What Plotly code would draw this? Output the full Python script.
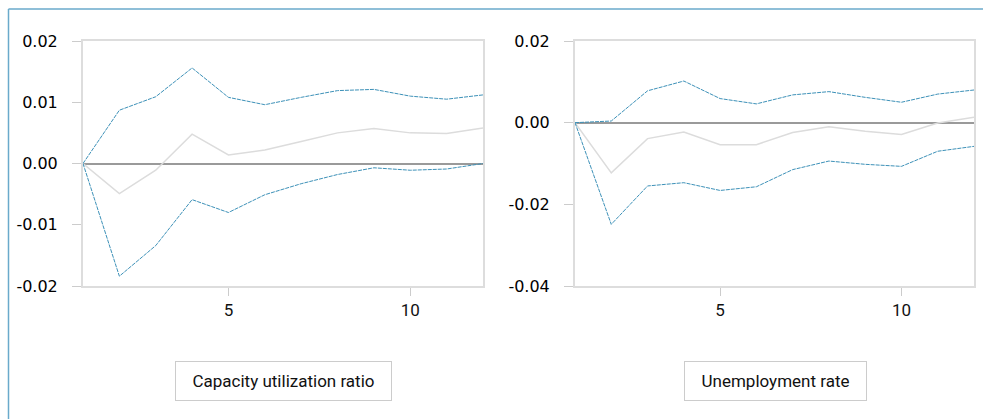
import plotly.graph_objects as go

W, H = 983, 419

periods = list(range(1, 13))

# Capacity utilization ratio
cap_upper = [0.0, 0.0087, 0.0109, 0.0156, 0.0108, 0.0096, 0.0108, 0.0119, 0.0121, 0.0110, 0.0105, 0.0112]
cap_mid = [0.0, -0.0049, -0.0011, 0.0048, 0.0014, 0.0022, 0.0036, 0.0050, 0.0057, 0.0050, 0.0049, 0.0058]
cap_lower = [0.0, -0.0184, -0.0134, -0.0059, -0.0080, -0.0051, -0.0033, -0.0018, -0.0007, -0.0011, -0.0009, 0.0]

# Unemployment rate
un_upper = [0.0, 0.0004, 0.0078, 0.0102, 0.0059, 0.0046, 0.0068, 0.0076, 0.0062, 0.0050, 0.0070, 0.0080]
un_mid = [0.0, -0.0123, -0.0039, -0.0023, -0.0054, -0.0054, -0.0024, -0.0010, -0.0021, -0.0029, -0.0001, 0.0013]
un_lower = [0.0, -0.0249, -0.0155, -0.0147, -0.0166, -0.0157, -0.0115, -0.0094, -0.0102, -0.0107, -0.0070, -0.0058]

titles = ["Capacity utilization ratio", "Unemployment rate"]
x_ticks = [5, 10]
left_y_ticks = [-0.02, -0.01, 0.0, 0.01, 0.02]
right_y_ticks = [-0.04, -0.02, 0.0, 0.02]

BLUE = "#3d91b8"
GREY = "#dcdcdc"

fig = go.Figure()

def add_panel(upper, mid, lower, xa, ya):
    fig.add_trace(go.Scatter(x=periods, y=mid, mode="lines", xaxis=xa, yaxis=ya,
                             line=dict(color=GREY, width=1.5), showlegend=False))
    for s in (upper, lower):
        fig.add_trace(go.Scatter(x=periods, y=s, mode="lines", xaxis=xa, yaxis=ya,
                                 line=dict(color=BLUE, width=1, dash="4px,1px"), showlegend=False))

add_panel(cap_upper, cap_mid, cap_lower, "x", "y")
add_panel(un_upper, un_mid, un_lower, "x2", "y2")

def labels(vals):
    return [f"{v:.2f}" if v != 0 else "0.00" for v in vals]

ytop = 1 - 41 / H
ybot = 1 - 286 / H

tickfont = dict(family="DejaVu Sans, sans-serif", size=16, color="#000")
narrow = "Liberation Sans Narrow, Roboto, sans-serif"
xtickfont = dict(family=narrow, size=17, color="#111")

common_x = dict(range=[1, 12], tickvals=x_ticks, ticks="outside", ticklen=8, tickcolor="#cccccc",
                showline=True, linecolor="#dddddd", linewidth=2, mirror=True, showgrid=False,
                zeroline=False, tickfont=xtickfont, ticklabelstandoff=0)
common_y = dict(ticks="outside", ticklen=9, tickcolor="#cccccc",
                showline=True, linecolor="#dddddd", linewidth=2, mirror=True, showgrid=False,
                zeroline=True, zerolinecolor="#9a9a9a", zerolinewidth=1.5, tickfont=tickfont,
                ticklabelstandoff=11)

fig.update_layout(
    width=W, height=H,
    margin=dict(l=0, r=0, t=0, b=0, autoexpand=False),
    paper_bgcolor="white", plot_bgcolor="white",
    xaxis=dict(domain=[83 / W, 483 / W], anchor="y", **common_x),
    yaxis=dict(domain=[ybot, ytop], anchor="x", range=[-0.02, 0.02], tickvals=left_y_ticks,
               ticktext=labels(left_y_ticks), **common_y),
    xaxis2=dict(domain=[575 / W, 974 / W], anchor="y2", **common_x),
    yaxis2=dict(domain=[ybot, ytop], anchor="x2", range=[-0.04, 0.02], tickvals=right_y_ticks,
                ticktext=labels(right_y_ticks), **common_y),
)

# outer frame (left and top edges)
frame_color = "#6aaacb"
fig.add_shape(type="line", xref="paper", yref="paper", x0=8.5 / W, x1=8.5 / W, y0=0, y1=1 - 9 / H,
              line=dict(color=frame_color, width=1.5))
fig.add_shape(type="line", xref="paper", yref="paper", x0=8.5 / W, x1=1, y0=1 - 9 / H, y1=1 - 9 / H,
              line=dict(color=frame_color, width=1.5))

for cx, t, w in zip([283.5 / W, 775.5 / W], titles, [185, 151]):
    fig.add_annotation(x=cx, y=1 - 381 / H, xref="paper", yref="paper", text=t, showarrow=False,
                       xanchor="center", yanchor="middle",
                       font=dict(family=narrow, size=17, color="#111"),
                       bordercolor="#cccccc", borderwidth=1, borderpad=9, bgcolor="white",
                       width=w + 12)

fig.write_html("out.html")
